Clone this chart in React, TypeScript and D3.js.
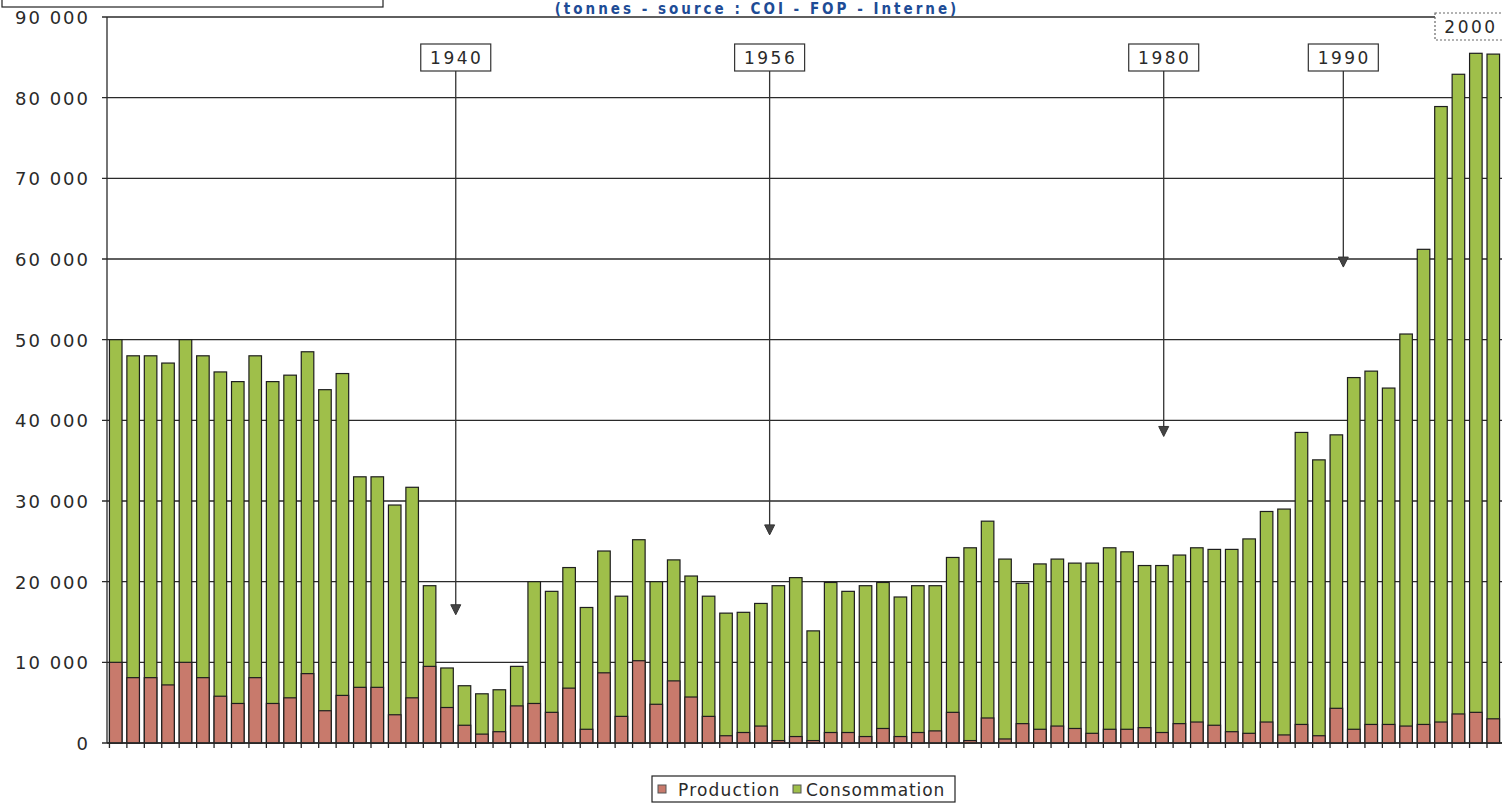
import * as d3 from "d3";

// années (une barre par an)
const years = [
  1921, 1922, 1923, 1924, 1925, 1926, 1927, 1928, 1929, 1930,
  1931, 1932, 1933, 1934, 1935, 1936, 1937, 1938, 1939, 1940,
  1941, 1942, 1943, 1944, 1945, 1946, 1947, 1948, 1949, 1950,
  1951, 1952, 1953, 1954, 1955, 1956, 1957, 1958, 1959, 1960,
  1961, 1962, 1963, 1964, 1965, 1966, 1967, 1968, 1969, 1970,
  1971, 1972, 1973, 1974, 1975, 1976, 1977, 1978, 1979, 1980,
  1981, 1982, 1983, 1984, 1985, 1986, 1987, 1988, 1989, 1990,
  1991, 1992, 1993, 1994, 1995, 1996, 1997, 1998, 1999, 2000,
];

const production = [
  10000, 8100, 8100, 7200, 10000, 8100, 5800, 4900, 8100, 4900,
  5600, 8600, 4000, 5900, 6900, 6900, 3500, 5600, 9500, 4400,
  2200, 1100, 1400, 4600, 4900, 3800, 6800, 1700, 8700, 3300,
  10200, 4800, 7700, 5700, 3300, 900, 1300, 2100, 300, 800,
  300, 1300, 1300, 800, 1800, 800, 1300, 1500, 3800, 300,
  3100, 500, 2400, 1700, 2100, 1800, 1200, 1700, 1700, 1900,
  1300, 2400, 2600, 2200, 1400, 1200, 2600, 1000, 2300, 900,
  4300, 1700, 2300, 2300, 2100, 2300, 2600, 3600, 3800, 3000,
];

const consommation = [
  50000, 48000, 48000, 47100, 50000, 48000, 46000, 44800, 48000, 44800,
  45600, 48500, 43800, 45800, 33000, 33000, 29500, 31700, 19500, 9300,
  7100, 6100, 6600, 9500, 20000, 18800, 21750, 16800, 23800, 18200,
  25200, 20000, 22700, 20700, 18200, 16100, 16200, 17300, 19500, 20500,
  13900, 19900, 18800, 19500, 19900, 18100, 19500, 19500, 23000, 24200,
  27500, 22800, 19800, 22200, 22800, 22300, 22300, 24200, 23700, 22000,
  22000, 23300, 24200, 24000, 24000, 25300, 28700, 29000, 38500, 35100,
  38200, 45300, 46100, 44000, 50700, 61200, 78900, 82900, 85500, 85400,
];

const yTicks = [0, 10000, 20000, 30000, 40000, 50000, 60000, 70000, 80000, 90000];

// repères : libellé, position (en années), pointe de la flèche
const repereLabels = ["1940", "1956", "1980", "1990"];
const repereAt = [1940.5, 1958.5, 1981.1, 1991.4];
const repereTip = [15900, 25800, 38000, 59000];

const width = 1502;
const height = 807;
const margin = { top: 17, right: 0, bottom: 64, left: 107 };

const green = "#9fbf4a";
const red = "#c87a6c";
const fontLabel = "'DejaVu Sans', Verdana, sans-serif";

export default function App() {
  const x = d3
    .scaleBand<number>()
    .domain(years)
    .range([margin.left, width - margin.right])
    .paddingInner(0.28)
    .paddingOuter(0.14);

  // position continue (année -> centre de barre)
  const xYear = d3
    .scaleLinear()
    .domain([years[0] - 0.5, years[years.length - 1] + 0.5])
    .range([margin.left, width - margin.right]);

  const y = d3
    .scaleLinear()
    .domain([0, 90000])
    .range([height - margin.bottom, margin.top]);

  const fmt = (v: number) => d3.format(",")(v).replace(/,/g, " ");
  const bw = x.bandwidth();

  return (
    <svg
      width={width}
      height={height}
      style={{ position: "absolute", left: 0, top: 0, background: "#fff" }}
    >
      {/* cadre du titre, coupé en haut */}
      <rect x={2} y={-20} width={381} height={27} fill="#fff" stroke="#222" strokeWidth={1.2} />
      <text
        x={757}
        y={14}
        textAnchor="middle"
        fill="#1e4c96"
        fontFamily="'Liberation Sans Narrow', 'DejaVu Sans Condensed', sans-serif"
        fontWeight="bold"
        fontSize={15}
        letterSpacing={3}
      >
        (tonnes - source : COI - FOP - Interne)
      </text>

      {/* grille */}
      {yTicks.map((t) => (
        <g key={t}>
          <line
            x1={margin.left - 5}
            x2={width - margin.right}
            y1={y(t)}
            y2={y(t)}
            stroke="#2a2a2a"
            strokeWidth={1.3}
          />
          <text
            x={90}
            y={y(t) + 7}
            textAnchor="end"
            fontFamily={fontLabel}
            fontSize={18}
            letterSpacing={2}
            fill="#2a2a2a"
          >
            {fmt(t)}
          </text>
        </g>
      ))}
      <line
        x1={margin.left}
        x2={margin.left}
        y1={y(90000)}
        y2={y(0)}
        stroke="#2a2a2a"
        strokeWidth={1.3}
      />

      {/* barres */}
      {years.map((yr, i) => (
        <g key={yr}>
          <rect
            x={x(yr)}
            y={y(consommation[i])}
            width={bw}
            height={y(0) - y(consommation[i])}
            fill={green}
            stroke="#1e1e1e"
            strokeWidth={1.2}
          />
          <rect
            x={x(yr)}
            y={y(production[i])}
            width={bw}
            height={y(0) - y(production[i])}
            fill={red}
            stroke="#1e1e1e"
            strokeWidth={1.2}
          />
          <line
            x1={x(yr)}
            x2={x(yr)}
            y1={y(0)}
            y2={y(0) + 5}
            stroke="#2a2a2a"
            strokeWidth={1.3}
          />
        </g>
      ))}
      <line
        x1={margin.left}
        x2={width - margin.right}
        y1={y(0)}
        y2={y(0)}
        stroke="#2a2a2a"
        strokeWidth={1.3}
      />

      {/* repères fléchés */}
      {repereLabels.map((lab, i) => {
        const cx = xYear(repereAt[i]);
        const tipY = y(repereTip[i]);
        return (
          <g key={lab}>
            <line x1={cx} x2={cx} y1={70} y2={tipY - 8} stroke="#333" strokeWidth={1.3} />
            <path
              d={`M${cx - 5},${tipY - 10} L${cx + 5},${tipY - 10} L${cx},${tipY} Z`}
              fill="#444"
              stroke="#333"
              strokeWidth={1}
            />
            <rect
              x={cx - 35}
              y={44}
              width={70}
              height={27}
              fill="#fff"
              stroke="#333"
              strokeWidth={1.2}
            />
            <text
              x={cx + 1}
              y={64}
              textAnchor="middle"
              fontFamily={fontLabel}
              fontSize={17}
              letterSpacing={2.5}
              fill="#2a2a2a"
            >
              {lab}
            </text>
          </g>
        );
      })}

      {/* 2000 */}
      <g>
        <rect
          x={xYear(1998.55) - 33}
          y={13}
          width={70}
          height={27}
          fill="#fff"
          stroke="#666"
          strokeWidth={1.2}
          strokeDasharray="2,2"
        />
        <text
          x={xYear(1998.55) + 3}
          y={33}
          textAnchor="middle"
          fontFamily={fontLabel}
          fontSize={17}
          letterSpacing={2.5}
          fill="#2a2a2a"
        >
          2000
        </text>
      </g>

      {/* légende */}
      <g>
        <rect x={652} y={776} width={303} height={26} fill="#fff" stroke="#222" strokeWidth={1.2} />
        <rect x={658} y={785} width={8} height={8} fill={red} stroke="#555" strokeWidth={1} />
        <text x={678} y={796} fontFamily={fontLabel} fontSize={17} letterSpacing={1.2} fill="#2a2a2a">
          Production
        </text>
        <rect x={793} y={785} width={8} height={8} fill={green} stroke="#555" strokeWidth={1} />
        <text x={806} y={796} fontFamily={fontLabel} fontSize={17} letterSpacing={0.9} fill="#2a2a2a">
          Consommation
        </text>
      </g>
    </svg>
  );
}
